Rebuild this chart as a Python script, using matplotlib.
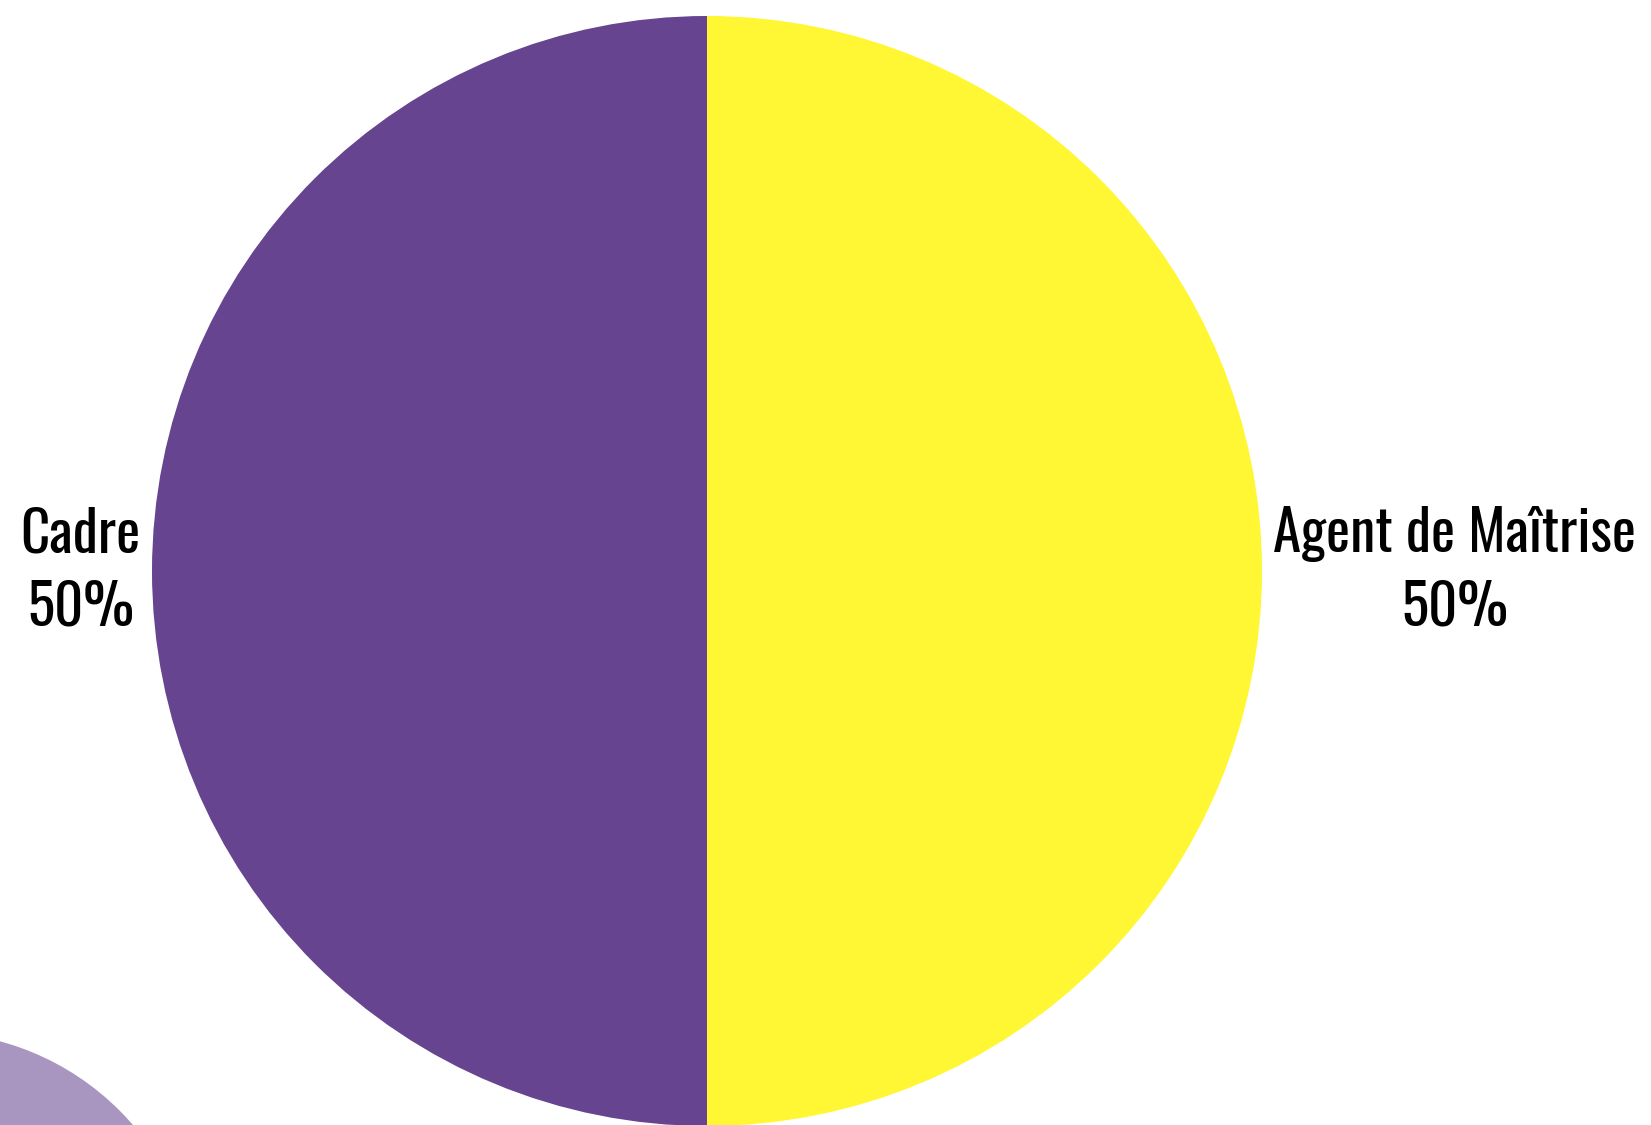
import matplotlib
matplotlib.use("Agg")
import matplotlib.pyplot as plt
from matplotlib.patches import Circle

categories = ["Cadre", "Agent de Maîtrise"]
values = [50, 50]
colors = ["#66448f", "#fff733"]

W, H, DPI = 1651, 1125, 100
fig = plt.figure(figsize=(W / DPI, H / DPI), dpi=DPI)
ax = fig.add_axes([0, 0, 1, 1])

labels = [f"{c}\n{v / sum(values) * 100:.0f}%" for c, v in zip(categories, values)]
wedges, texts = ax.pie(values, labels=labels, colors=colors, startangle=90,
                       counterclock=True, labeldistance=1.02,
                       textprops=dict(family=["Oswald", "Antonio", "DejaVu Sans"],
                                      fontsize=41, color="black"))
for t in texts:
    t.set_multialignment("center")
    t.set_linespacing(1.37)

# map pixels: pie centre at (707, 571), radius 555
cx, cy, R = 707, 571, 555
ax.set_xlim(-cx / R, (W - cx) / R)
ax.set_ylim(-(H - cy) / R, cy / R)
ax.set_aspect("auto")
ax.axis("off")

# decorative light purple circle at bottom-left
ax.add_patch(Circle(((-70 - cx) / R, (cy - 1300) / R), 268 / R,
                    facecolor="#a895c0", edgecolor="none", zorder=0))

fig.savefig("out.png", dpi=DPI)
